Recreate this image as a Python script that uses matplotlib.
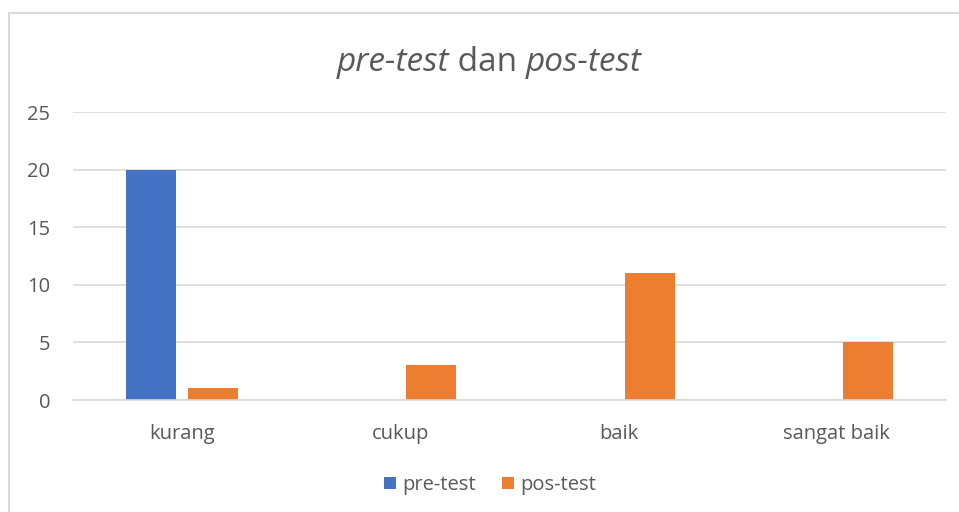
import numpy as np
import matplotlib.pyplot as plt
from matplotlib.lines import Line2D

categories = ['kurang', 'cukup', 'baik', 'sangat baik']
pre_test = [20, 0, 0, 0]
pos_test = [1, 3, 11, 5]
yticks = [0, 5, 10, 15, 20, 25]

plt.rcParams['font.family'] = ['Open Sans', 'DejaVu Sans']
text_color = '#595959'
grid_color = '#d9d9d9'

fig = plt.figure(figsize=(9.59, 5.12), dpi=100)
W, H = 959, 512

ax = fig.add_axes([73 / W, 1 - 400 / H, (946 - 73) / W, (400 - 112) / H])

x = np.arange(len(categories))
bw = 0.229
off = 0.142
ax.bar(x - off, pre_test, bw, color='#4472c4', label='pre-test')
ax.bar(x + off, pos_test, bw, color='#ed7d31', label='pos-test')

ax.set_xlim(-0.5, len(categories) - 0.5)
ax.set_ylim(0, 25)
ax.set_yticks(yticks)
ax.yaxis.grid(True, color=grid_color, linewidth=1.2)
ax.set_axisbelow(True)
for s in ['top', 'right', 'left']:
    ax.spines[s].set_visible(False)
ax.spines['bottom'].set_color(grid_color)
ax.spines['bottom'].set_linewidth(1.2)
ax.set_xticks(x)
ax.set_xticklabels(categories)
ax.tick_params(axis='both', length=0, labelsize=14.5, colors=text_color)
ax.tick_params(axis='y', pad=16.5)
ax.tick_params(axis='x', pad=17)

# chart border (cut at bottom/right)
fig.add_artist(Line2D([9 / W, 1], [1 - 13 / H, 1 - 13 / H], color=grid_color, linewidth=1.5))
fig.add_artist(Line2D([9 / W, 9 / W], [1 - 13 / H, 0], color=grid_color, linewidth=1.5))

# title with mixed italic
parts = [('pre-test', 'italic'), (' dan ', 'normal'), ('pos-test', 'italic')]
r = fig.canvas.get_renderer()
texts = []
for s, st in parts:
    t = fig.text(0, 1 - 71 / H, s, fontsize=24, style=st, color=text_color, ha='left', va='baseline')
    texts.append(t)
widths = [t.get_window_extent(r).width for t in texts]
xpos = (489 - sum(widths) / 2)
for t, w in zip(texts, widths):
    t.set_x(xpos / W)
    xpos += w

fig.legend(loc='center', bbox_to_anchor=(490 / W, 1 - 485 / H), ncol=2, frameon=False,
           fontsize=14.5, labelcolor=text_color, handlelength=0.6, handleheight=0.6,
           handletextpad=0.3, columnspacing=1.3)

plt.savefig('out.png', dpi=100)
